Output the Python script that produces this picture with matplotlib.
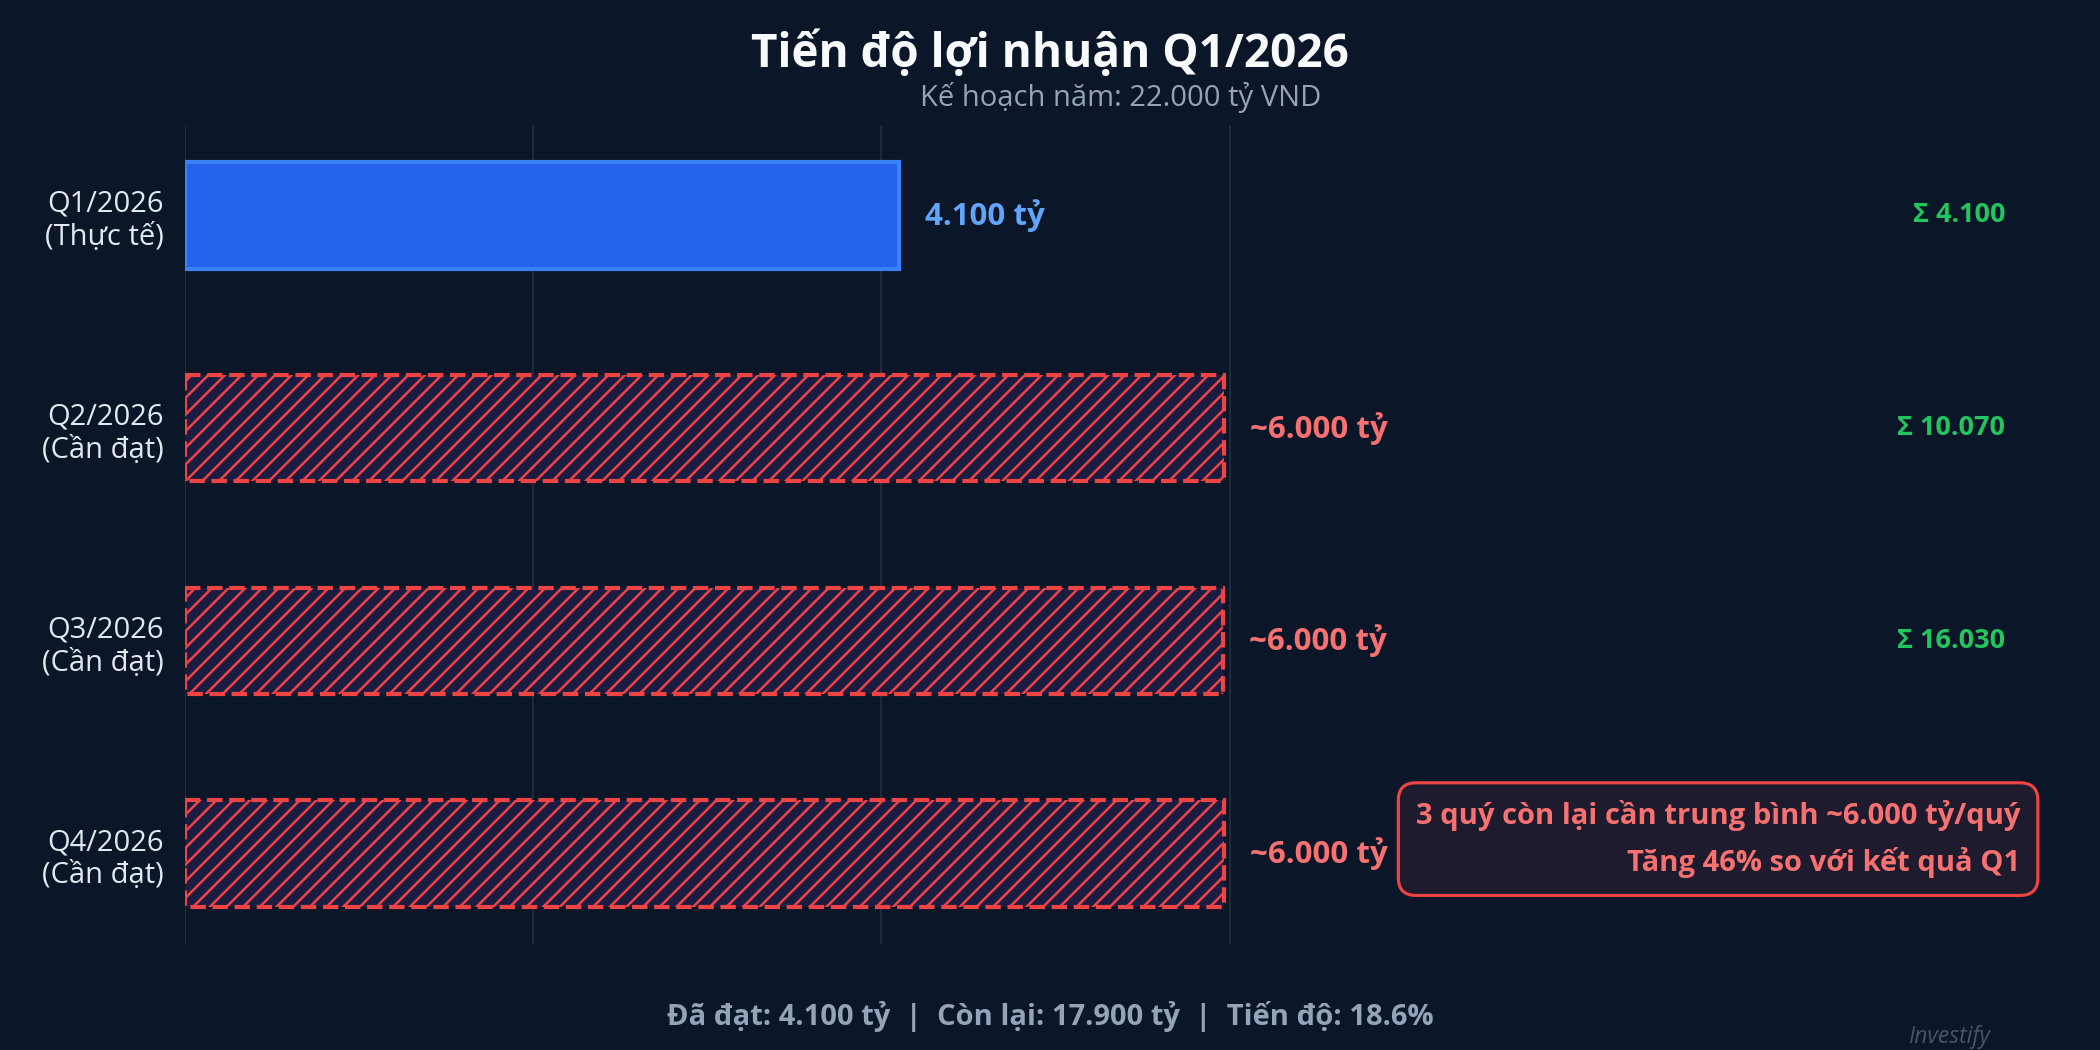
import matplotlib
matplotlib.use("Agg")
import matplotlib.pyplot as plt

plt.rcParams['font.family'] = ['Open Sans', 'Noto Sans', 'DejaVu Sans']
plt.rcParams['hatch.color'] = "#e9505a"
plt.rcParams['hatch.linewidth'] = 1.2

# data
quarters = ["Q1/2026\n(Thực tế)", "Q2/2026\n(Cần đạt)", "Q3/2026\n(Cần đạt)", "Q4/2026\n(Cần đạt)"]
profit = [4100, 5970, 5960, 5970]
bar_labels = ["4.100 tỷ", "~6.000 tỷ", "~6.000 tỷ", "~6.000 tỷ"]
cum_labels = ["Σ 4.100", "Σ 10.070", "Σ 16.030"]
grid_ticks = [0, 2000, 4000, 6000]

BG = "#0b1628"
fig = plt.figure(figsize=(14, 7), dpi=150, facecolor=BG)
ax = fig.add_axes([0.088, 0.101, 0.891, 0.78])
ax.set_facecolor(BG)

y = list(range(len(quarters)))
ax.barh(y[0], profit[0], height=0.5, color="#2563eb", edgecolor="#3b82f6", linewidth=2, zorder=3)
ax.barh(y[1:], profit[1:], height=0.5, color="#1a1c42", edgecolor="#ef4444",
        linewidth=2, linestyle="--", hatch="///", zorder=3)

for i, (v, lab) in enumerate(zip(profit, bar_labels)):
    col = "#60a5fa" if i == 0 else "#f87171"
    ax.text(v + 150, i, lab, va="center", ha="left", fontsize=15, fontweight="bold", color=col)

trans = ax.get_yaxis_transform()
for i, lab in enumerate(cum_labels):
    ax.text(0.973, i, lab, transform=trans, ha="right", va="center",
            fontsize=13, fontweight="bold", color="#22c55e")

ax.text(0.981, 0.128, "3 quý còn lại cần trung bình ~6.000 tỷ/quý\nTăng 46% so với kết quả Q1",
        transform=ax.transAxes, ha="right", va="center", multialignment="right",
        fontsize=14, fontweight="bold", color="#f87171", linespacing=1.65,
        bbox=dict(boxstyle="round,pad=0.6", facecolor="#1e1b2e", edgecolor="#ef4444", linewidth=1.5))

ax.set_xlim(0, max(profit) * 1.8)
ax.set_yticks(y)
ax.set_yticklabels(quarters, fontsize=14, color="#e2e8f0")
ax.invert_yaxis()
ax.set_xticks(grid_ticks)
ax.set_xticklabels([])
ax.tick_params(length=0, pad=10)
ax.grid(axis="x", color="#1f2a3b", linewidth=1, zorder=0)
for s in ax.spines.values():
    s.set_visible(False)

ax.set_title("Kế hoạch năm: 22.000 tỷ VND", fontsize=14, color="#94a3b8", pad=9)
fig.text(0.5, 0.936, "Tiến độ lợi nhuận Q1/2026", ha="center", va="baseline",
         fontsize=22, fontweight="bold", color="#f8fafc")
fig.text(0.5, 0.032, "Đã đạt: 4.100 tỷ  |  Còn lại: 17.900 tỷ  |  Tiến độ: 18.6%",
         ha="center", va="center", fontsize=14, fontweight="bold", color="#94a3b8")
fig.text(0.928, 0.012, "Investify", ha="center", va="center", fontsize=11,
         style="italic", color="#475569")

fig.savefig("out.png", dpi=150, facecolor=BG)
